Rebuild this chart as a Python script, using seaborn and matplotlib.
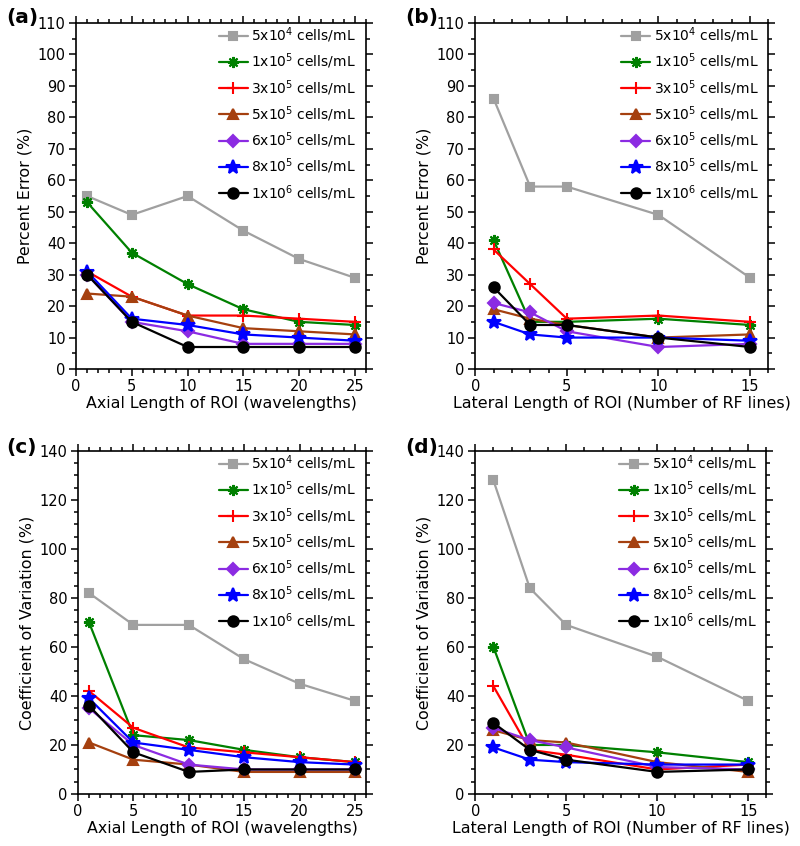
import numpy as np
import pandas as pd
import matplotlib
matplotlib.use("Agg")
import matplotlib.pyplot as plt
import seaborn as sns
from matplotlib.ticker import MultipleLocator

# ---- data ----
SERIES = ['5x10$^4$ cells/mL', '1x10$^5$ cells/mL', '3x10$^5$ cells/mL',
          '5x10$^5$ cells/mL', '6x10$^5$ cells/mL', '8x10$^5$ cells/mL',
          '1x10$^6$ cells/mL']

X_AXIAL = [1, 5, 10, 15, 20, 25]
X_LATERAL = [1, 3, 5, 10, 15]

# (a) percent error vs axial length
PE_AXIAL = [
    [55, 49, 55, 44, 35, 29],
    [53, 37, 27, 19, 15, 14],
    [31, 23, 17, 17, 16, 15],
    [24, 23, 17, 13, 12, 11],
    [30, 15, 12, 8, 8, 8],
    [31, 16, 14, 11, 10, 9],
    [30, 15, 7, 7, 7, 7],
]
# (b) percent error vs lateral length
PE_LATERAL = [
    [86, 58, 58, 49, 29],
    [41, 15, 15, 16, 14],
    [38, 27, 16, 17, 15],
    [19, 16, 14, 10, 11],
    [21, 18, 12, 7, 8],
    [15, 11, 10, 10, 9],
    [26, 14, 14, 10, 7],
]
# (c) coefficient of variation vs axial length
CV_AXIAL = [
    [82, 69, 69, 55, 45, 38],
    [70, 24, 22, 18, 15, 13],
    [42, 27, 19, 17, 15, 13],
    [21, 14, 12, 9, 9, 9],
    [35, 20, 12, 10, 10, 10],
    [39, 21, 18, 15, 13, 12],
    [36, 17, 9, 10, 10, 10],
]
# (d) coefficient of variation vs lateral length
CV_LATERAL = [
    [128, 84, 69, 56, 38],
    [60, 20, 20, 17, 13],
    [44, 18, 16, 10, 12],
    [26, 22, 21, 13, 9],
    [27, 22, 19, 11, 10],
    [19, 14, 13, 12, 12],
    [29, 18, 14, 9, 10],
]

# ---- styling ----
COLORS = ['#a0a0a0', '#008000', '#ff0000', '#a5400f', '#8b2be2', '#0000ff', '#000000']
MARKERS = ['s', (8, 2, 0), '+', '^', 'D', '*', 'o']
MSIZE = [6, 8, 8, 7, 6, 10, 7.5]

sns.set_style("ticks")
plt.rcParams['font.family'] = ['DejaVu Sans']
plt.rcParams['mathtext.fontset'] = 'dejavusans'
plt.rcParams['text.color'] = 'black'
plt.rcParams['axes.labelcolor'] = 'black'


def draw_panel(ax, xs, rows, xmax, ymax, ymaj, ymin, xlabel, ylabel):
    for name, vals, c, m, ms in zip(SERIES, rows, COLORS, MARKERS, MSIZE):
        df = pd.DataFrame({'x': xs, 'y': vals})
        sns.lineplot(data=df, x='x', y='y', color=c, marker=m,
                     markersize=ms, markeredgecolor=c, markerfacecolor=c,
                     markeredgewidth=1.5, lw=1.6, ax=ax, label=name)

    ax.set_xlim(0, xmax)
    ax.set_ylim(0, ymax)
    ax.xaxis.set_major_locator(MultipleLocator(5))
    ax.xaxis.set_minor_locator(MultipleLocator(1))
    ax.yaxis.set_major_locator(MultipleLocator(ymaj))
    ax.yaxis.set_minor_locator(MultipleLocator(ymin))
    ax.tick_params(which='both', direction='out', top=True, right=True,
                   labelsize=10.5, width=1.1, colors='black', pad=2.5)
    ax.tick_params(which='major', length=5)
    ax.tick_params(which='minor', length=2.8)
    for sp in ax.spines.values():
        sp.set_linewidth(1.2)
        sp.set_color('black')
        sp.set_visible(True)
    ax.set_xlabel(xlabel, fontsize=11.4, labelpad=1)
    ax.set_ylabel(ylabel, fontsize=11.4, labelpad=4)

    ax.legend(loc='upper right', frameon=False,
              fontsize=10, handlelength=2.1, handletextpad=0.25,
              labelspacing=0.48, borderaxespad=0.0,
              bbox_to_anchor=(0.985, 1.009))
    return ax


fig = plt.figure(figsize=(8.0, 8.46), dpi=100)

ax_a = fig.add_axes([0.095, 0.5638, 0.3625, 0.4090])
ax_b = fig.add_axes([0.594, 0.5638, 0.3665, 0.4090])
ax_c = fig.add_axes([0.0975, 0.0615, 0.3600, 0.4055])
ax_d = fig.add_axes([0.594, 0.0615, 0.3640, 0.4055])

axial_lbl = 'Axial Length of ROI (wavelengths)'
lateral_lbl = 'Lateral Length of ROI (Number of RF lines)'

draw_panel(ax_a, X_AXIAL, PE_AXIAL, 26, 110, 10, 5, axial_lbl, 'Percent Error (%)')
draw_panel(ax_b, X_LATERAL, PE_LATERAL, 16, 110, 10, 5, lateral_lbl, 'Percent Error (%)')
draw_panel(ax_c, X_AXIAL, CV_AXIAL, 26, 140, 20, 5, axial_lbl, 'Coefficient of Variation (%)')
draw_panel(ax_d, X_LATERAL, CV_LATERAL, 16, 140, 20, 5, lateral_lbl, 'Coefficient of Variation (%)')

fig.text(0.008, 1 - 18 / 846, '(a)', fontsize=14.5, fontweight='bold', va='center')
fig.text(0.506, 1 - 18 / 846, '(b)', fontsize=14.5, fontweight='bold', va='center')
fig.text(0.008, 1 - 447 / 846, '(c)', fontsize=14.5, fontweight='bold', va='center')
fig.text(0.506, 1 - 447 / 846, '(d)', fontsize=14.5, fontweight='bold', va='center')

fig.savefig('out.png', dpi=100)
